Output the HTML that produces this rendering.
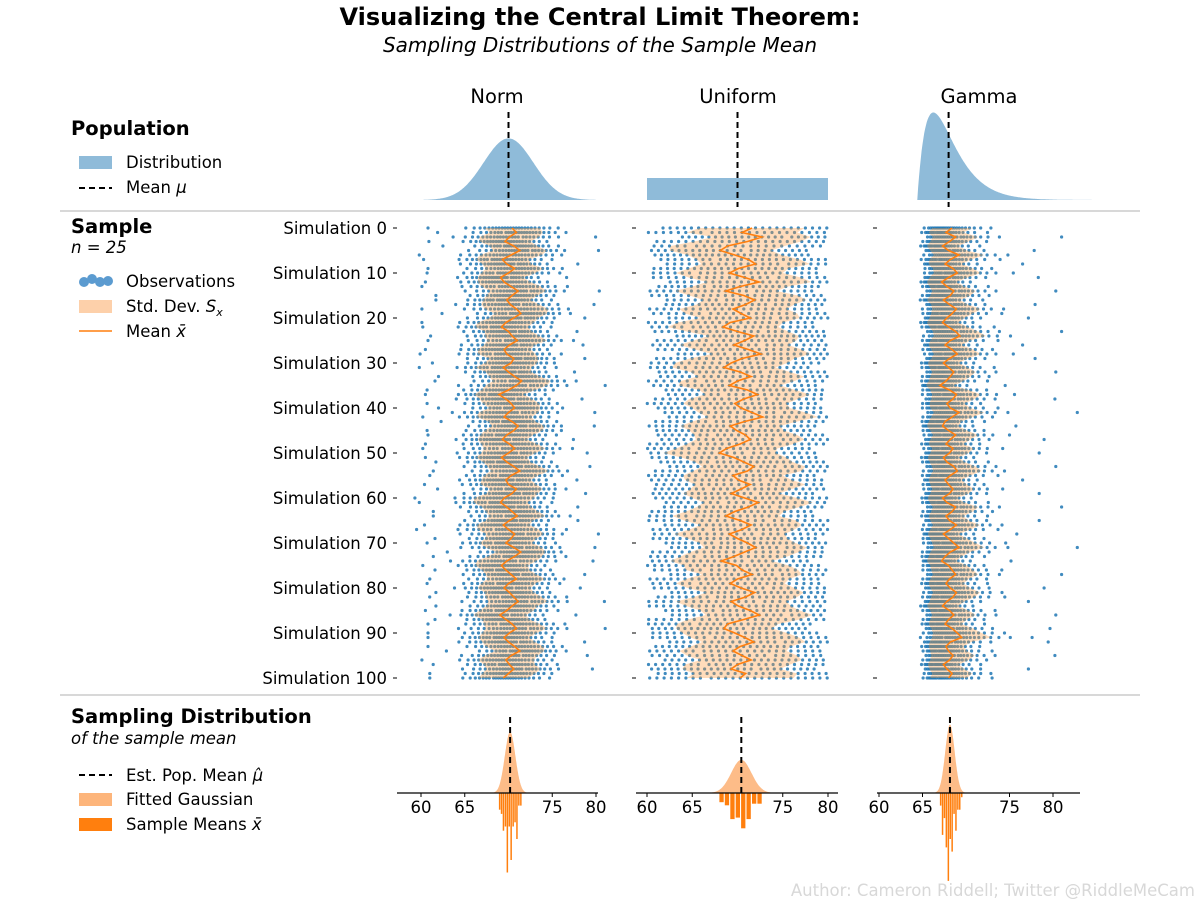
<!DOCTYPE html>
<html><head><meta charset="utf-8"><style>
html,body{margin:0;padding:0;background:#fff;}
svg{display:block;font-family:"DejaVu Sans","Liberation Sans",sans-serif;}
</style></head><body>
<svg id="chart" width="1200" height="900" viewBox="0 0 1200 900" xmlns="http://www.w3.org/2000/svg">
<text x="600" y="25" text-anchor="middle" font-size="24" font-weight="bold">Visualizing the Central Limit Theorem:</text>
<text x="600" y="52" text-anchor="middle" font-size="20" font-style="italic">Sampling Distributions of the Sample Mean</text>
<text x="497" y="103" text-anchor="middle" font-size="19.5">Norm</text>
<text x="738" y="103" text-anchor="middle" font-size="19.5">Uniform</text>
<text x="979" y="103" text-anchor="middle" font-size="19.5">Gamma</text>
<line x1="60" y1="211" x2="1140" y2="211" stroke="#cccccc" stroke-width="1.5"/>
<line x1="60" y1="695" x2="1140" y2="695" stroke="#cccccc" stroke-width="1.5"/>
<g>
<text x="71" y="135" font-size="19.5" font-weight="bold">Population</text>
<rect x="79" y="156" width="33" height="13" fill="#8fbbd9"/>
<text x="126" y="168" font-size="16.5">Distribution</text>
<line x1="79" y1="188" x2="112" y2="188" stroke="#000" stroke-width="2" stroke-dasharray="6,4"/>
<text x="126" y="193" font-size="16.5">Mean <tspan font-style="italic">μ</tspan></text>
</g>
<g>
<text x="71" y="233" font-size="19.5" font-weight="bold">Sample</text>
<text x="71" y="253" font-size="16.5" font-style="italic">n = 25</text>
<circle cx="84" cy="282" r="5" fill="#5b9bd0"/>
<circle cx="92" cy="279" r="5" fill="#5b9bd0"/>
<circle cx="100" cy="282" r="5" fill="#5b9bd0"/>
<circle cx="108" cy="281" r="5" fill="#5b9bd0"/>
<text x="126" y="287" font-size="16.5">Observations</text>
<rect x="79" y="300" width="33" height="13" fill="#fdd0aa"/>
<text x="126" y="312" font-size="16.5">Std. Dev. <tspan font-style="italic">S</tspan><tspan font-style="italic" font-size="11" dy="4">x</tspan></text>
<line x1="79" y1="331" x2="112" y2="331" stroke="#ff7f0e" stroke-width="1.5"/>
<text x="126" y="337" font-size="16.5">Mean <tspan font-style="italic">x̄</tspan></text>
</g>
<g>
<text x="71" y="723" font-size="19.5" font-weight="bold">Sampling Distribution</text>
<text x="71" y="744" font-size="16.5" font-style="italic">of the sample mean</text>
<line x1="79" y1="775" x2="112" y2="775" stroke="#000" stroke-width="2" stroke-dasharray="6,4"/>
<text x="126" y="781" font-size="16.5">Est. Pop. Mean <tspan font-style="italic">μ̂</tspan></text>
<rect x="79" y="793" width="33" height="13" fill="#fdb57b"/>
<text x="126" y="805" font-size="16.5">Fitted Gaussian</text>
<rect x="79" y="818" width="33" height="13" fill="#ff7f0e"/>
<text x="126" y="830" font-size="16.5">Sample Means <tspan font-style="italic">x̄</tspan></text>
</g>
<text x="1195" y="896" text-anchor="end" font-size="16.5" fill="#d8d8d8">Author: Cameron Riddell; Twitter @RiddleMeCam</text>
<g id="plots"></g>
</svg>
<script>
const simTicks = [0,10,20,30,40,50,60,70,80,90,100];
const xTicks = [60,65,75,80];
const normMean = [70.4,70.9,70.1,69.6,70.6,71.3,70.3,69.3,69.8,70.7,
70.0,69.1,69.5,70.3,71.1,70.4,69.8,70.2,70.9,71.4,
70.6,69.7,69.2,70.0,70.4,71.0,70.1,69.5,69.8,70.6,
70.3,69.4,70.0,70.7,71.5,70.9,70.0,68.9,69.7,70.3,
70.7,70.0,69.5,70.4,71.1,70.6,69.8,69.3,70.1,70.7,
70.0,69.2,69.8,70.6,71.3,70.3,69.7,70.0,70.9,70.4,
69.5,69.1,69.8,70.4,71.0,70.1,69.4,70.0,70.7,70.3,
69.7,70.6,71.4,70.7,69.8,69.2,69.7,70.3,70.9,70.0,
69.5,70.1,70.6,71.1,70.4,69.8,69.0,69.7,70.4,70.9,
70.1,69.5,70.0,70.7,71.3,70.3,69.7,70.1,70.6,70.0,69.4];
const normSd = [3.2,3.0,3.4,2.9,2.7,3.1,3.5,3.0,2.8,3.3,
3.1,2.6,3.0,3.4,3.2,2.9,2.7,3.3,3.6,3.0,
2.8,3.2,3.0,2.7,3.1,3.4,2.9,3.0,3.3,2.8,
3.0,3.2,2.6,2.9,3.3,3.5,3.1,2.8,3.0,3.2,
2.9,3.4,3.1,2.7,3.0,3.3,3.0,2.8,3.2,3.5,
3.1,2.9,2.7,3.0,3.3,3.1,2.8,3.2,3.0,2.9,
3.4,3.1,2.8,3.0,3.2,2.7,3.0,3.5,3.3,2.9,
3.0,3.2,2.8,3.1,3.4,3.0,2.7,2.9,3.3,3.1,
3.0,2.8,3.2,3.4,2.9,3.1,3.0,2.7,3.2,3.5,
3.1,2.9,3.0,3.3,2.8,3.0,3.2,2.9,3.1,3.0,2.8];
const unifMean = [71.6,70.5,72.7,71.1,68.9,68.1,69.7,71.2,72.0,70.1,
69.1,70.8,72.4,70.3,68.7,70.7,71.9,70.9,69.5,70.4,
71.4,69.2,68.4,70.0,71.8,70.8,69.6,71.2,72.6,70.5,
69.3,68.5,70.3,71.5,70.0,69.1,71.1,72.2,70.7,69.7,
70.4,71.6,72.8,70.8,69.2,69.9,70.9,71.4,70.3,68.8,
68.0,69.6,70.7,71.8,71.1,69.5,70.1,71.4,70.4,69.3,
70.8,72.3,71.2,69.7,68.7,70.3,71.5,70.5,69.1,70.0,
71.1,72.0,70.8,69.6,68.2,69.9,70.5,71.6,70.0,69.2,
70.4,71.9,70.9,69.3,70.1,71.4,72.4,70.7,68.9,68.5,
69.7,70.8,71.8,70.3,69.5,70.5,71.5,70.0,69.3,70.9,70.3];
const unifSd = [5.8,6.1,5.4,5.9,6.3,5.6,5.2,5.7,6.0,5.5,
5.9,6.2,5.8,5.3,5.6,6.0,5.7,5.4,5.9,6.2,
5.5,5.8,6.1,5.6,5.0,5.7,6.0,5.9,5.4,5.8,
6.2,5.7,5.5,5.9,6.3,5.6,5.3,5.8,6.0,5.7,
5.4,5.9,6.1,5.8,5.5,5.2,5.7,6.0,5.9,5.6,
6.2,5.8,5.4,5.7,6.0,5.5,5.9,6.1,5.6,5.3,
5.8,6.0,5.7,5.4,5.9,6.2,5.6,5.8,6.1,5.5,
5.3,5.7,6.0,5.9,5.6,5.8,6.2,5.5,5.7,6.0,
5.9,5.4,5.7,6.1,5.8,5.5,5.9,6.2,5.6,5.3,
5.8,6.0,5.7,5.5,5.9,6.1,5.6,5.8,5.4,5.7,5.9];
const gammaMean = [68.4,67.7,68.8,68.1,67.3,68.0,69.2,68.2,67.6,68.5,
69.0,68.0,67.2,67.8,68.6,68.2,67.4,68.1,68.9,68.4,
67.8,67.3,68.0,68.8,69.3,68.2,67.6,68.4,69.0,68.1,
67.4,68.0,68.6,68.2,67.7,67.0,68.1,68.9,68.5,67.8,
68.2,69.2,68.4,67.6,67.3,68.0,68.8,68.2,67.7,68.5,
68.1,67.4,67.8,68.6,69.0,68.2,67.6,68.0,68.5,68.1,
67.3,67.8,68.8,68.4,67.7,68.1,68.9,68.2,67.4,68.0,
68.6,69.2,68.2,67.6,67.2,68.0,68.4,68.8,68.1,67.7,
68.2,68.9,68.5,67.8,67.3,68.1,68.6,68.0,67.6,68.4,
69.0,69.5,68.2,67.7,68.0,68.5,68.1,67.4,67.8,68.4,68.0];
const gammaSd = [2.3,2.0,2.6,2.2,1.8,2.1,2.9,2.4,1.9,2.3,
2.7,2.2,1.7,2.0,2.5,2.3,1.9,2.1,2.8,2.4,
2.0,1.8,2.2,2.6,3.0,2.3,1.9,2.4,2.7,2.1,
1.8,2.2,2.5,2.3,2.0,1.6,2.2,2.8,2.5,2.0,
2.3,2.9,2.4,1.9,1.8,2.1,2.6,2.3,2.0,2.4,
2.2,1.8,2.0,2.5,2.8,2.3,1.9,2.1,2.4,2.2,
1.7,2.0,2.6,2.4,2.0,2.2,2.7,2.3,1.8,2.1,
2.5,2.9,2.3,1.9,1.7,2.1,2.4,2.6,2.2,2.0,
2.3,2.7,2.5,2.0,1.8,2.2,2.5,2.1,1.9,2.4,
2.8,3.4,2.4,2.0,2.1,2.5,2.2,1.8,2.0,2.3,2.1];
const normQuant = [-3.0,-1.89,-1.65,-1.48,-1.35,-1.24,-1.14,-1.05,-0.97,-0.89,-0.82,-0.75,-0.69,-0.63,-0.57,-0.51,-0.46,-0.40,-0.35,-0.30,-0.25,-0.20,-0.15,-0.10,-0.05,0,
0.05,0.10,0.15,0.20,0.25,0.30,0.35,0.40,0.46,0.51,0.57,0.63,0.69,0.75,0.82,0.89,0.97,1.05,1.14,1.24,1.35,1.48,1.65,1.89,2.9];

const NS = 'http://www.w3.org/2000/svg';
const root = document.getElementById('plots');
function mk(tag, attrs, parent){
  const e = document.createElementNS(NS, tag);
  for (const k in attrs) e.setAttribute(k, attrs[k]);
  (parent||root).appendChild(e);
  return e;
}
const panels = [
  {key:'norm', x0:421, k:8.75, left:397, right:598, mean:normMean, sd:normSd, kind:'norm', mu:70, binw:0.22},
  {key:'uniform', x0:647, k:9.05, left:636, right:838, mean:unifMean, sd:unifSd, kind:'unif', mu:70, binw:0.6},
  {key:'gamma', x0:879, k:8.7, left:877, right:1080, mean:gammaMean, sd:gammaSd, kind:'gamma', mu:68, binw:0.22}
];
const yOf = i => 228 + i*4.5;
const PXD = 440;
const PXD2 = 93;
const NQ = normQuant.length;
function quantile(kind, idx){
  if (kind==='unif') return (idx+0.5)/NQ*3.46-1.73;
  const q = normQuant[idx];
  if (kind==='gamma'){ const c=0.2357; const x=2*Math.pow(Math.max(0.05,0.9444+q*c),3); return (x-2)/1.414; }
  return q;
}
const labels = mk('g', {});


simTicks.forEach(s=>{
  const t = mk('text',{x:387,y:yOf(s)+6,'text-anchor':'end','font-size':16.5},labels);
  t.textContent = 'Simulation ' + s;
  
  
});
panels.forEach(p=>{
  const X = v => p.x0 + (v-60)*p.k;
  const g = mk('g', {});
  
  
  const base = 200;
  if (p.kind==='unif'){
    const r = mk('rect',{x:X(60),y:base-PXD*0.05,width:X(80)-X(60),height:PXD*0.05,fill:'#8fbbd9'},g);
    
    
  } else {
    let d = '';
    const lo = p.kind==='norm'?60.3:64.4, hi = p.kind==='norm'?80:85;
    for (let v=lo; v<=hi; v+=0.1){
      let dens;
      if (p.kind==='norm') dens = Math.exp(-0.5*Math.pow((v-70)/2.85,2))/(2.85*2.5066);
      else { const z=(v-64.4)/1.85; dens = z*Math.exp(-z)/1.85; }
      d += (d?'L':'M') + X(v).toFixed(1) + ',' + (base-PXD*dens).toFixed(1);
    }
    d += 'L'+X(hi).toFixed(1)+','+base+'L'+X(lo).toFixed(1)+','+base+'Z';
    const pa = mk('path',{d:d,fill:'#8fbbd9'},g);
    
    
  }
  const ml = mk('line',{x1:X(p.mu),y1:112,x2:X(p.mu),y2:207,stroke:'#000','stroke-width':2,'stroke-dasharray':'6,4'},g);
  
  
  simTicks.forEach(s=>{
    const t = mk('line',{x1:p.left-4,y1:yOf(s),x2:p.left,y2:yOf(s),stroke:'#000','stroke-width':1},g);
    
    
  });
  const dots = mk('g',{fill:'#1f77b4','fill-opacity':0.85},g);
  
  
  p.mean.forEach((m,i)=>{
    for (let j=0;j<25;j++){
      const idx = (i*17 + j*2) % NQ;
      let v = m + p.sd[i]*quantile(p.kind, idx);
      if (p.kind==='unif' && (v<60 || v>80)) continue;
      const c = mk('circle',{cx:X(v).toFixed(1),cy:yOf(i).toFixed(1),r:1.6},dots);
      
      
    }
  });
  let up='', dn='';
  p.mean.forEach((m,i)=>{ up += (i?'L':'M') + X(m+p.sd[i]).toFixed(1)+','+yOf(i).toFixed(1); });
  for (let i=p.mean.length-1;i>=0;i--) dn += 'L'+X(p.mean[i]-p.sd[i]).toFixed(1)+','+yOf(i).toFixed(1);
  const band = mk('path',{d:up+dn+'Z',fill:'#ff9a3c','fill-opacity':0.35},g);
  
  
  let ln='';
  p.mean.forEach((m,i)=>{ ln += (i?'L':'M') + X(m).toFixed(1)+','+yOf(i).toFixed(1); });
  const mline = mk('path',{d:ln,fill:'none',stroke:'#ff7f0e','stroke-width':1.6},g);
  
  
  const yb = 793;
  const n = p.mean.length;
  const mu = p.mean.reduce((a,b)=>a+b,0)/n;
  const sig = Math.sqrt(p.mean.reduce((a,b)=>a+(b-mu)*(b-mu),0)/n);
  let gd='';
  for (let v=mu-4*sig; v<=mu+4*sig; v+=sig/20){
    const dens = Math.exp(-0.5*Math.pow((v-mu)/sig,2))/(sig*2.5066);
    gd += (gd?'L':'M') + X(v).toFixed(1)+','+(yb-PXD2*dens).toFixed(1);
  }
  gd += 'Z';
  const ga = mk('path',{d:gd,fill:'#fdb57b','fill-opacity':0.9},g);
  
  
  const mn = Math.min(...p.mean), mx = Math.max(...p.mean);
  const nb = Math.max(1, Math.ceil((mx-mn)/p.binw+1e-9));
  const counts = new Array(nb).fill(0);
  p.mean.forEach(v=>{ let b=Math.floor((v-mn)/p.binw); if(b>=nb)b=nb-1; counts[b]++; });
  counts.forEach((c,b)=>{
    if(!c) return;
    const h = PXD2*c/(n*p.binw);
    const x1 = X(mn+b*p.binw), w = p.binw*p.k*0.8;
    const r = mk('rect',{x:x1.toFixed(1),y:yb,width:w.toFixed(1),height:h.toFixed(1),fill:'#ff7f0e'},g);
    
    
  });
  const ax = mk('line',{x1:p.left,y1:yb,x2:p.right,y2:yb,stroke:'#000','stroke-width':1.2},g);
  
  
  xTicks.forEach(tv=>{
    const tk = mk('line',{x1:X(tv),y1:yb,x2:X(tv),y2:yb+4,stroke:'#000','stroke-width':1},g);
    
    
    const tl = mk('text',{x:X(tv),y:yb+20,'text-anchor':'middle','font-size':16.5},g);
    tl.textContent = tv;
    
    
  });
  const em = mk('line',{x1:X(mu),y1:717,x2:X(mu),y2:yb,stroke:'#000','stroke-width':2,'stroke-dasharray':'6,4'},g);
  
  
});
</script>
</body></html>
